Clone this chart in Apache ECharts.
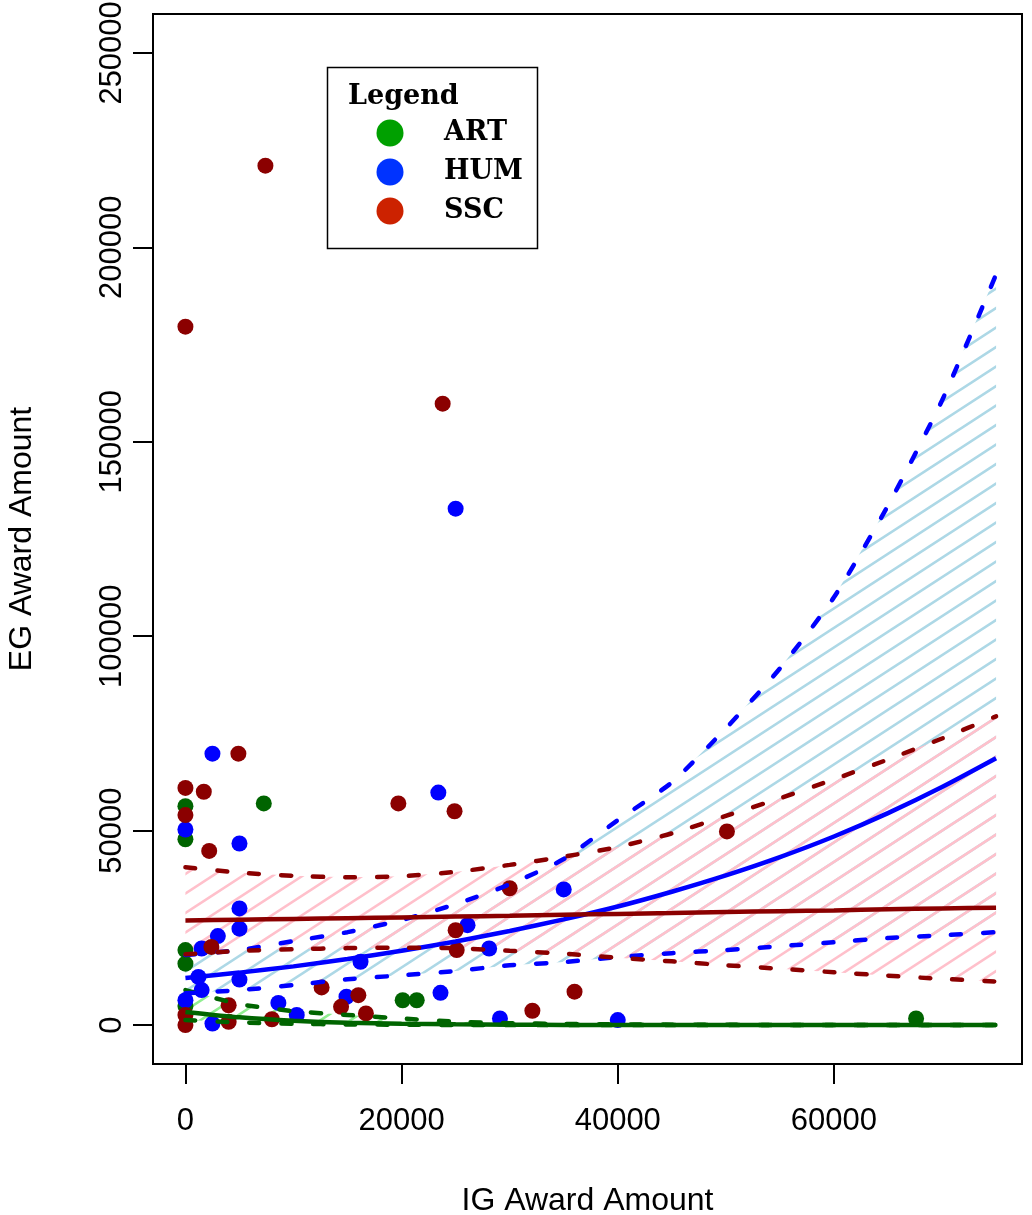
<!DOCTYPE html>
<html>
<head>
<meta charset="utf-8">
<script src="https://cdn.jsdelivr.net/npm/echarts@6/dist/echarts.min.js"></script>
<style>
html,body{margin:0;padding:0;background:#fff;}
#chart{width:1032px;height:1215px;}
</style>
</head>
<body>
<div id="chart"></div>
<script>
// ---- scatter points (IG award, EG award) ----
var ART_x = [0, 0, 7250, 0, 0, 0, 20100, 21400, 67600];
var ART_y = [56300, 47800, 57000, 19300, 15800, 4900, 6400, 6400, 1700];

var HUM_x = [25000, 23400, 2500, 0, 5000, 5000, 5000, 3000, 1500, 1200, 5000, 1500, 0, 2500, 8600, 10300, 14900, 16200, 23600, 26100, 28100, 35000, 29100, 40000];
var HUM_y = [132800, 59800, 69800, 50300, 46700, 30000, 24800, 22900, 19700, 12400, 11700, 9000, 6400, 400, 5700, 2600, 7300, 16300, 8300, 25700, 19700, 34900, 1700, 1300];

var SSC_x = [0, 7400, 23800, 0, 1700, 4900, 0, 2200, 19700, 24900, 50100, 30000, 25000, 25100, 36000, 32100, 2400, 12600, 16000, 14400, 16700, 4000, 4000, 8000, 0, 0];
var SSC_y = [179600, 221000, 159800, 61000, 60000, 69800, 54000, 44800, 57000, 55000, 49800, 35200, 24400, 19300, 8600, 3700, 20100, 9700, 7700, 4700, 3000, 5100, 850, 1500, 0, 2600];

// ---- fitted curves and confidence bounds ----
var fitX = [0, 5000, 10000, 15000, 20000, 25000, 30000, 35000, 40000, 45000, 50000, 55000, 60000, 65000, 70000, 75000];

var ART_fit = [3400, 2000, 1100, 600, 350, 200, 110, 60, 35, 20, 10, 6, 3, 2, 1, 0.5];
var ART_hi  = [9000, 5400, 3600, 2600, 1700, 900, 500, 300, 200, 120, 80, 50, 35, 25, 15, 10];
var ART_lo  = [1300, 700, 350, 180, 90, 50, 25, 12, 6, 3, 2, 1, 0.5, 0.3, 0.2, 0.1];

var HUM_fit = [12100, 13500, 15100, 17000, 19100, 21500, 24200, 27200, 30500, 34300, 38500, 43200, 48500, 54500, 61200, 68600];
var HUM_hi  = [18000, 19300, 21600, 23900, 27000, 31100, 36200, 42700, 52700, 62400, 76300, 91700, 110000, 133600, 160600, 193000];
var HUM_lo  = [8200, 9000, 10300, 11800, 12800, 13900, 15400, 16200, 17500, 18500, 19300, 20300, 21300, 22400, 23100, 23900];

var SSC_fit = [26900, 27100, 27300, 27500, 27700, 27900, 28100, 28400, 28600, 28800, 29100, 29300, 29500, 29800, 30000, 30200];
var SSC_hi  = [40600, 39200, 38400, 38000, 38300, 39400, 41200, 43300, 45800, 49300, 53800, 58300, 63200, 68300, 73700, 79400];
var SSC_lo  = [18200, 19100, 19500, 19800, 19900, 19800, 19100, 18400, 17300, 16400, 15400, 14500, 13600, 12700, 11900, 11200];

// ---- ticks ----
var xTicks = [0, 20000, 40000, 60000];
var yTicks = [0, 50000, 100000, 150000, 200000, 250000];

// ---- legend ----
var legendNames = ['ART', 'HUM', 'SSC'];
var legendColors = ['#00a000', '#0033ff', '#cc2200'];

function zip(xs, ys) { return xs.map(function (x, i) { return [x, ys[i]]; }); }

function hatch(color) {
  var c = document.createElement('canvas');
  var w = 60, h = 39;
  c.width = w; c.height = h;
  var g = c.getContext('2d');
  g.strokeStyle = color;
  g.lineWidth = 2.6;
  for (var k = -3; k <= 3; k++) {
    var off = k * 19.5;
    g.beginPath();
    g.moveTo(-10, h + 0.65 * 10 + off);
    g.lineTo(w + 10, h - 0.65 * (w + 10) + off);
    g.stroke();
  }
  return { image: c, repeat: 'repeat' };
}

function band(lo, hi, color) {
  var pat = hatch(color);
  return {
    type: 'custom',
    coordinateSystem: 'cartesian2d',
    silent: true,
    clip: true,
    data: [[0, 0]],
    renderItem: function (params, api) {
      var pts = [];
      for (var i = 0; i < fitX.length; i++) pts.push(api.coord([fitX[i], hi[i]]));
      for (var j = fitX.length - 1; j >= 0; j--) pts.push(api.coord([fitX[j], lo[j]]));
      return { type: 'polygon', shape: { points: pts }, style: { fill: pat, stroke: null } };
    }
  };
}

function line(ys, color, dashed) {
  return {
    type: 'line',
    data: zip(fitX, ys),
    showSymbol: false,
    symbol: 'none',
    silent: true,
    smooth: 0.2,
    clip: true,
    lineStyle: { color: color, width: 4.5, type: dashed ? [10, 22] : 'solid', cap: dashed ? 'round' : 'butt' }
  };
}

function scatter(xs, ys, color) {
  return {
    type: 'scatter',
    data: zip(xs, ys),
    symbol: 'circle',
    symbolSize: 16,
    silent: true,
    itemStyle: { color: color, opacity: 1 }
  };
}

var axisFont = "'Liberation Sans', Arial, sans-serif";
var legendFont = "bold 27px 'DejaVu Serif', serif";

var chart = echarts.init(document.getElementById('chart'), null, { renderer: 'canvas' });

var graphics = [
  { type: 'rect', shape: { x: 327.5, y: 67.5, width: 210, height: 181 }, style: { fill: '#fff', stroke: '#000', lineWidth: 1.5 }, z: 100 },
  { type: 'text', x: 348, y: 97, style: { text: 'Legend', font: legendFont, fill: '#000', align: 'left', verticalAlign: 'middle', textAlign: 'left', textVerticalAlign: 'middle' }, z: 101 }
];
var legendY = [133, 172, 211];
legendNames.forEach(function (n, i) {
  graphics.push({ type: 'circle', shape: { cx: 390, cy: legendY[i], r: 13.5 }, style: { fill: legendColors[i] }, z: 101 });
  graphics.push({ type: 'text', x: 444, y: legendY[i], style: { text: n, font: legendFont, fill: '#000', align: 'left', verticalAlign: 'middle', textAlign: 'left', textVerticalAlign: 'middle' }, z: 101 });
});

var option = {
  animation: false,
  backgroundColor: '#fff',
  grid: { left: 153, right: 10, top: 14, bottom: 151, show: true, borderColor: '#000', borderWidth: 2, backgroundColor: 'transparent', containLabel: false, outerBoundsMode: 'none' },
  xAxis: {
    type: 'value', min: -3000, max: 77400,
    splitLine: { show: false },
    axisLine: { show: false, onZero: false },
    axisTick: { show: true, length: 20, inside: false, customValues: xTicks, lineStyle: { color: '#000', width: 2 } },
    axisLabel: { customValues: xTicks, margin: 42, fontSize: 31, fontFamily: axisFont, color: '#000', formatter: function (v) { return String(v); } },
    name: 'IG Award Amount', nameLocation: 'middle', nameGap: 121,
    nameTextStyle: { fontSize: 32, fontFamily: axisFont, color: '#000' }
  },
  yAxis: {
    type: 'value', min: -10000, max: 260000,
    splitLine: { show: false },
    axisLine: { show: false, onZero: false },
    axisTick: { show: true, length: 20, inside: false, customValues: yTicks, lineStyle: { color: '#000', width: 2 } },
    axisLabel: { customValues: yTicks, margin: 25, rotate: 90, fontSize: 31, fontFamily: axisFont, color: '#000', formatter: function (v) { return String(v); } },
    name: 'EG Award Amount', nameLocation: 'middle', nameGap: 115, nameRotate: 90,
    nameTextStyle: { fontSize: 32, fontFamily: axisFont, color: '#000' }
  },
  graphic: graphics,
  series: [
    scatter(ART_x, ART_y, '#006400'),
    scatter(HUM_x, HUM_y, '#0000ff'),
    scatter(SSC_x, SSC_y, '#8b0000'),
    band(ART_lo, ART_hi, '#90ee90'),
    line(ART_hi, '#006400', true),
    line(ART_lo, '#006400', true),
    line(ART_fit, '#006400', false),
    band(HUM_lo, HUM_hi, '#add8e6'),
    line(HUM_hi, '#0000ff', true),
    line(HUM_lo, '#0000ff', true),
    line(HUM_fit, '#0000ff', false),
    band(SSC_lo, SSC_hi, '#ffc0cb'),
    line(SSC_hi, '#8b0000', true),
    line(SSC_lo, '#8b0000', true),
    line(SSC_fit, '#8b0000', false)
  ]
};
chart.setOption(option);
</script>
</body>
</html>
